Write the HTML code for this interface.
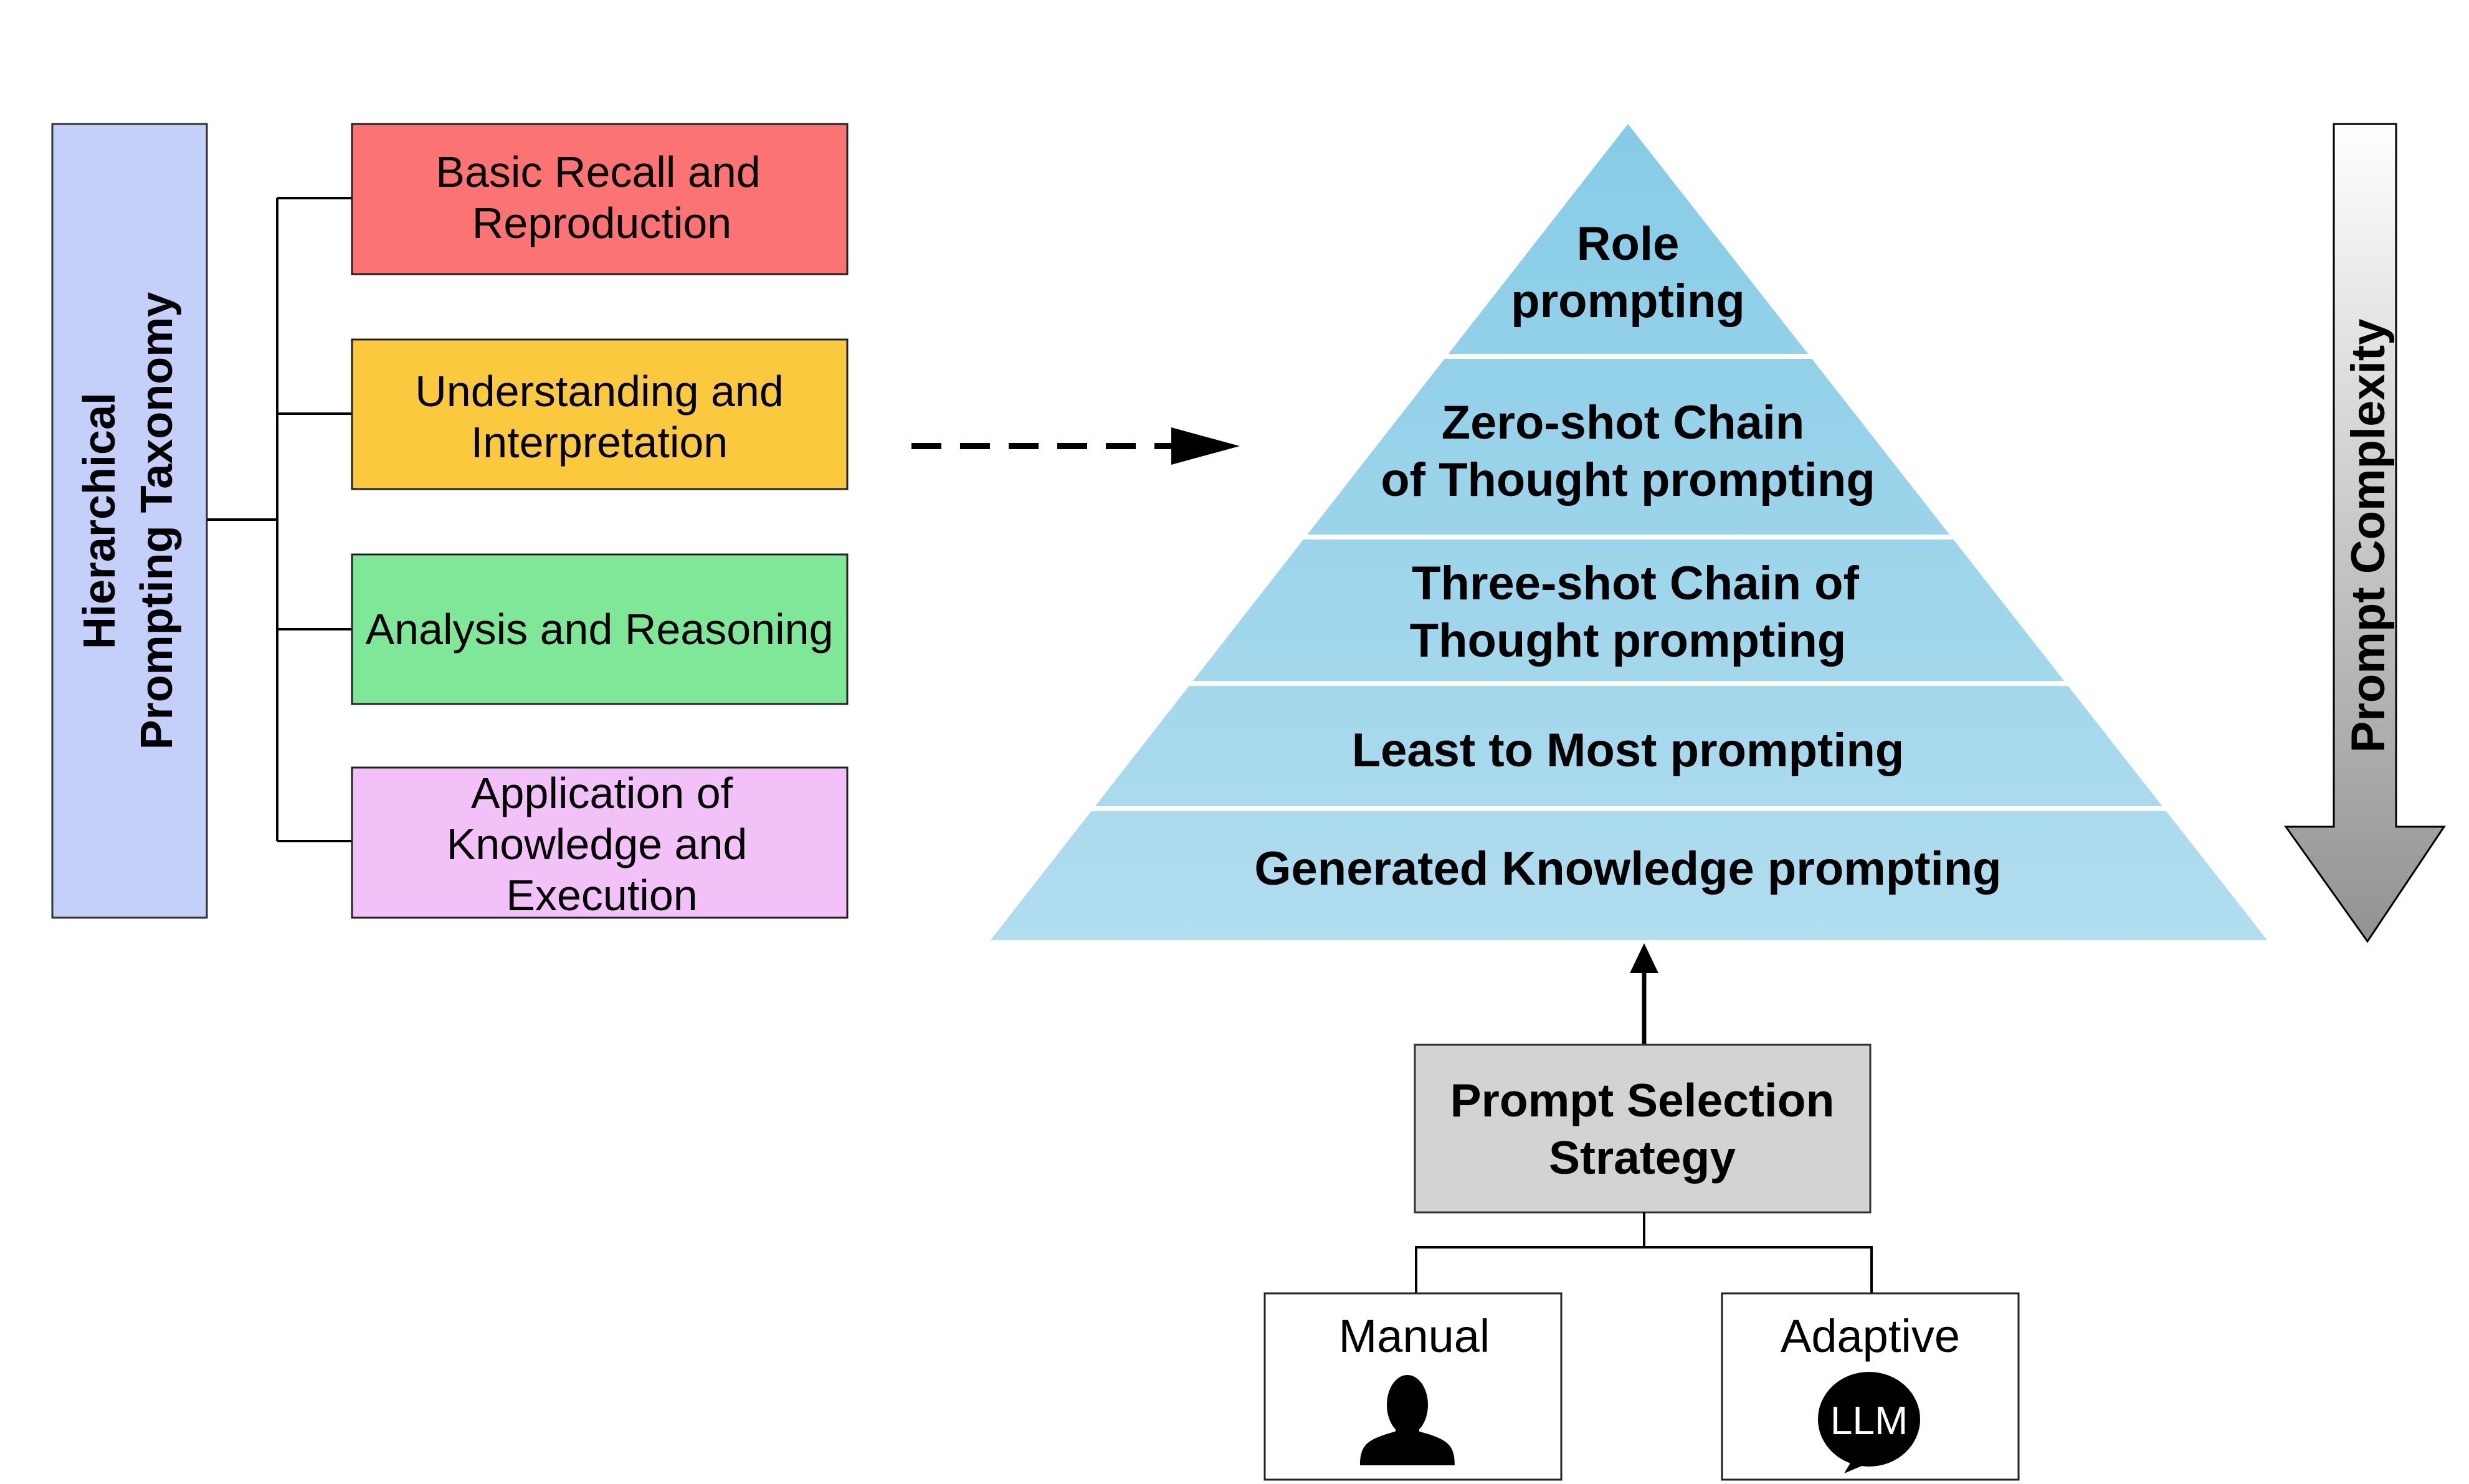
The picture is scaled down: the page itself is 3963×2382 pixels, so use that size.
<!DOCTYPE html>
<html><head><meta charset="utf-8"><style>html,body{margin:0;padding:0;background:#fff}svg{display:block}</style></head>
<body>
<svg width="3963" height="2382" viewBox="0 0 3963 2382" xmlns="http://www.w3.org/2000/svg" font-family="Liberation Sans, sans-serif">
<defs>
<linearGradient id="pg" x1="0" y1="0" x2="0" y2="1"><stop offset="0" stop-color="#86cce6"/><stop offset="1" stop-color="#b1ddef"/></linearGradient>
<linearGradient id="ag" x1="0" y1="0" x2="0" y2="1"><stop offset="0" stop-color="#ffffff"/><stop offset="1" stop-color="#929292"/></linearGradient>
</defs>
<!-- left taxonomy -->
<rect x="84" y="199" width="248" height="1274" fill="#c5d0fa" stroke="#333" stroke-width="3"/>
<text transform="translate(208,836) rotate(-90)" text-anchor="middle" font-weight="bold" font-size="72" fill="#000"><tspan x="0" y="-24">Hierarchical</tspan><tspan x="0" y="68">Prompting Taxonomy</tspan></text>
<g stroke="#000" stroke-width="4" fill="none">
<line x1="332" y1="834" x2="445" y2="834"/>
<line x1="445" y1="318" x2="445" y2="1350"/>
<line x1="445" y1="318" x2="565" y2="318"/>
<line x1="445" y1="664" x2="565" y2="664"/>
<line x1="445" y1="1010" x2="565" y2="1010"/>
<line x1="445" y1="1350" x2="565" y2="1350"/>
</g>
<g stroke="#222" stroke-width="3">
<rect x="565" y="199" width="795" height="241" fill="#fb7373"/>
<rect x="565" y="545" width="795" height="240" fill="#fac93d"/>
<rect x="565" y="890" width="795" height="240" fill="#7fe898"/>
<rect x="565" y="1232" width="795" height="241" fill="#f2c1f8"/>
</g>
<g font-size="70" text-anchor="middle" fill="#000">
<text x="960" y="300">Basic Recall and</text>
<text x="966" y="382">Reproduction</text>
<text x="962" y="652">Understanding and</text>
<text x="962" y="734">Interpretation</text>
<text x="962" y="1034">Analysis and Reasoning</text>
<text x="966" y="1297">Application of</text>
<text x="958" y="1379">Knowledge and</text>
<text x="966" y="1461">Execution</text>
</g>
<!-- dashed arrow -->
<line x1="1463" y1="716" x2="1880" y2="716" stroke="#000" stroke-width="10" stroke-dasharray="48,30"/>
<polygon points="1880,686 1990,716 1880,746" fill="#000"/>
<!-- pyramid -->
<polygon points="2613,199 3639,1509 1590,1509" fill="url(#pg)"/>
<g stroke="#fff" stroke-width="8">
<line x1="2300" y1="572" x2="2930" y2="572"/>
<line x1="2060" y1="862" x2="3170" y2="862"/>
<line x1="1900" y1="1097" x2="3330" y2="1097"/>
<line x1="1740" y1="1298" x2="3490" y2="1298"/>
</g>
<g font-size="76" font-weight="bold" text-anchor="middle" fill="#000">
<text x="2613" y="417">Role</text>
<text x="2613" y="509">prompting</text>
<text x="2605" y="704">Zero-shot Chain</text>
<text x="2613" y="796">of Thought prompting</text>
<text x="2625" y="962">Three-shot Chain of</text>
<text x="2613" y="1054">Thought prompting</text>
<text x="2613" y="1230">Least to Most prompting</text>
<text x="2613" y="1420">Generated Knowledge prompting</text>
</g>
<!-- complexity arrow -->
<polygon points="3746,199 3846,199 3846,1327 3923,1327 3800,1511 3669,1327 3746,1327" fill="url(#ag)" stroke="#000" stroke-width="3"/>
<text transform="translate(3800,860) rotate(-90)" text-anchor="middle" font-weight="bold" font-size="76" fill="#000" y="27">Prompt Complexity</text>
<!-- up arrow -->
<line x1="2639" y1="1677" x2="2639" y2="1560" stroke="#000" stroke-width="7"/>
<polygon points="2639,1514 2616,1562 2662,1562" fill="#000"/>
<!-- selection box -->
<rect x="2271" y="1677" width="731" height="269" fill="#d3d3d3" stroke="#333" stroke-width="3"/>
<text x="2636" y="1792" text-anchor="middle" font-weight="bold" font-size="75">Prompt Selection</text>
<text x="2636" y="1884" text-anchor="middle" font-weight="bold" font-size="75">Strategy</text>
<g stroke="#000" stroke-width="4" fill="none">
<line x1="2639" y1="1946" x2="2639" y2="2002"/>
<polyline points="2273,2076 2273,2002 3004,2002 3004,2076"/>
</g>
<rect x="2030" y="2076" width="476" height="299" fill="#fff" stroke="#222" stroke-width="3"/>
<rect x="2764" y="2076" width="476" height="299" fill="#fff" stroke="#222" stroke-width="3"/>
<text x="2270" y="2170" text-anchor="middle" font-size="74">Manual</text>
<text x="3002" y="2170" text-anchor="middle" font-size="74">Adaptive</text>
<!-- person -->
<g fill="#000">
<ellipse cx="2259" cy="2255" rx="33" ry="48"/>
<rect x="2240" y="2280" width="38" height="40"/>
<path d="M2183,2352 C2183,2320 2195,2312 2225,2302 L2245,2296 L2259,2310 L2273,2296 L2293,2302 C2323,2312 2335,2320 2335,2352 Z"/>
</g>
<!-- LLM bubble -->
<ellipse cx="3000" cy="2278" rx="82" ry="76" fill="#000"/>
<path d="M2975,2340 L2960,2365 L3000,2348 Z" fill="#000"/>
<text x="3000" y="2302" text-anchor="middle" font-size="64" fill="#fff">LLM</text>
</svg>
</body></html>
